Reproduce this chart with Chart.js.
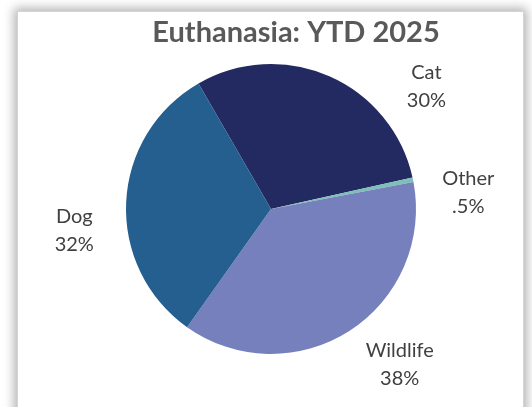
<!DOCTYPE html>
<html>
<head>
<meta charset="utf-8">
<script src="https://cdn.jsdelivr.net/npm/chart.js@4"></script>
<style>
  html, body { margin: 0; padding: 0; background: #ffffff; overflow: hidden; }
  .frame {
    position: absolute; left: 17px; top: 11px; width: 505px; height: 430px;
    border: 1px solid #d4d4d4; background: #fff;
    box-shadow: 0 0 10px 3px rgba(0,0,0,0.30);
  }
  #pie { position: absolute; left: 0; top: 0; }
</style>
</head>
<body>
<div class="frame"></div>
<canvas id="pie" width="532" height="407"></canvas>
<script>
// data
const categories = ["Cat", "Other", "Wildlife", "Dog"];
const shares = [30, 0.5, 38, 32];
const sliceColors = ["#222a61", "#7cc0b8", "#7680bd", "#245f8f"];
const titleText = "Euthanasia: YTD 2025";

// label nudges (deg) and distances so they sit like the excel best-fit ones
const labelNudge = [28, 7, -7, -9];
const labelDist = [1.365, 1.365, 1.39, 1.365];

const pctText = v => String(v).replace(/^0\./, ".") + "%";

const sliceLabels = {
  id: "sliceLabels",
  afterDatasetsDraw(chart) {
    const ctx = chart.ctx;
    const arcs = chart.getDatasetMeta(0).data;
    ctx.save();
    ctx.font = "20px Lato";
    ctx.fillStyle = "#404040";
    ctx.textAlign = "center";
    ctx.textBaseline = "middle";
    arcs.forEach((arc, i) => {
      const p = arc.getProps(["x", "y", "startAngle", "endAngle", "outerRadius"], true);
      const mid = (p.startAngle + p.endAngle) / 2 + labelNudge[i] * Math.PI / 180;
      const d = p.outerRadius * labelDist[i];
      const lx = p.x + Math.cos(mid) * d;
      const ly = p.y + Math.sin(mid) * d;
      ctx.fillText(categories[i], lx, ly - 14);
      ctx.fillText(pctText(shares[i]), lx, ly + 14);
    });
    // title
    ctx.font = "bold 29px Lato";
    ctx.fillStyle = "#595959";
    ctx.fillText(titleText, (chart.chartArea.left + chart.chartArea.right) / 2 + 25, 33);
    ctx.restore();
  }
};

new Chart(document.getElementById("pie"), {
  type: "pie",
  data: {
    labels: categories,
    datasets: [{
      data: shares,
      backgroundColor: sliceColors,
      borderWidth: 0
    }]
  },
  options: {
    responsive: false,
    animation: false,
    rotation: -30,
    layout: { padding: { top: 64, bottom: 53, left: 126, right: 116 } },
    plugins: {
      legend: { display: false },
      title: { display: false },
      tooltip: { enabled: false }
    }
  },
  plugins: [sliceLabels]
});
</script>
</body>
</html>
